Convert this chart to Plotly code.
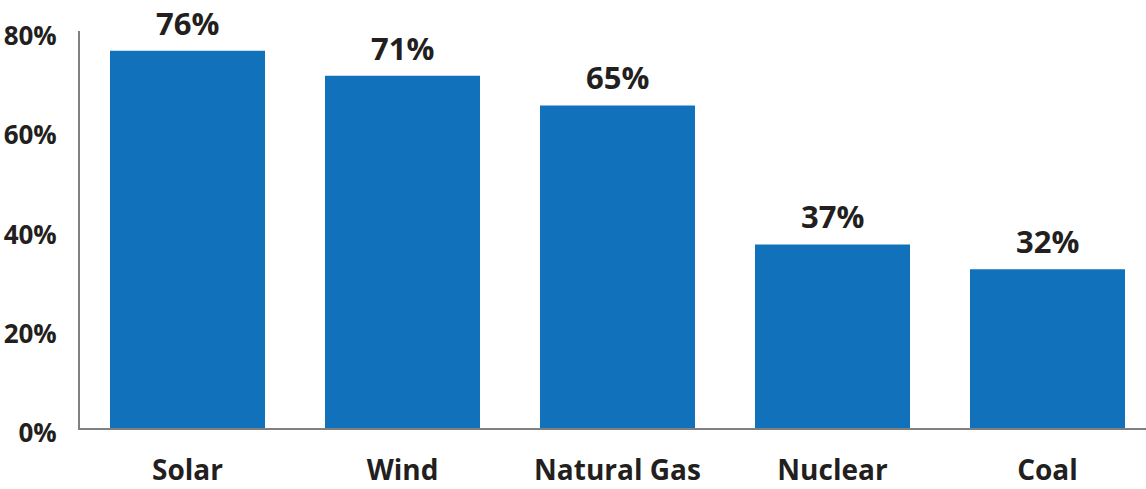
import plotly.graph_objects as go

categories = ["Solar", "Wind", "Natural Gas", "Nuclear", "Coal"]
values = [76, 71, 65, 37, 32]
value_labels = ["76%", "71%", "65%", "37%", "32%"]
y_ticks = [0, 20, 40, 60, 80]
y_tick_labels = ["0%", "20%", "40%", "60%", "80%"]

FONT = "Open Sans"
TXT = "#231F20"
BAR = "#1172BB"

fig = go.Figure()
fig.add_trace(go.Bar(x=categories, y=values, marker=dict(color=BAR, line=dict(width=0)),
                     width=155 / 215, hoverinfo="skip"))

for c, v, t in zip(categories, values, value_labels):
    fig.add_annotation(x=c, y=v, text=t, showarrow=False, yanchor="bottom", yshift=5,
                       font=dict(family=FONT, size=31, color=TXT, weight="bold"))

fig.update_layout(
    width=1146, height=489,
    margin=dict(l=80, r=0, t=31, b=61, autoexpand=False),
    paper_bgcolor="white", plot_bgcolor="white",
    showlegend=False,
    xaxis=dict(range=[-0.5, -0.5 + 1066 / 215], showgrid=False, zeroline=False,
               showline=True, linecolor="#808080", linewidth=2, ticks="",
               ticklabelstandoff=16, automargin=False,
               tickfont=dict(family=FONT, size=28, color=TXT, weight="bold")),
    yaxis=dict(range=[0, 80], tickvals=y_ticks, ticktext=y_tick_labels, showgrid=False,
               zeroline=False, showline=True, linecolor="#808080", linewidth=2, ticks="",
               ticklabelstandoff=16, ticklabelshift=5, automargin=False,
               tickfont=dict(family=FONT, size=26, color=TXT, weight="bold")),
)
fig.write_html("out.html")
